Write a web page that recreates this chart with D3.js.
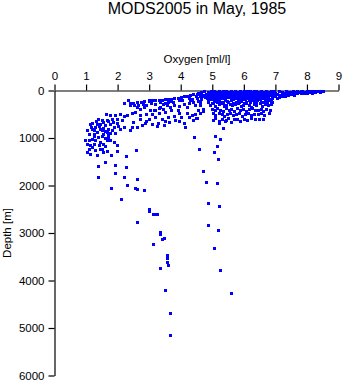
<!DOCTYPE html>
<html>
<head>
<meta charset="utf-8">
<script src="https://cdn.jsdelivr.net/npm/d3@7"></script>
<style>
  html, body { margin: 0; padding: 0; background: #fff; }
  svg { display: block; }
  text { font-family: "Liberation Sans", Arial, Helvetica, sans-serif; fill: #000; }
</style>
</head>
<body>
<svg id="chart" width="345" height="384"></svg>
<script>
// Oxygen (ml/l) versus depth (m) profiles, May 1985.
const titleText = "MODS2005 in May, 1985";
const xLabel = "Oxygen [ml/l]";
const yLabel = "Depth [m]";
const oxygenTicks = [0, 1, 2, 3, 4, 5, 6, 7, 8, 9];
const depthTicks = [0, 1000, 2000, 3000, 4000, 5000, 6000];

// Well-oxygenated surface layer, [oxygen, depth]
const surfacePoints = [
  [8.5,20],[8.45,15],[8.4,25],[8.35,5],[8.3,10],[8.25,30],[8.2,20],[8.15,45],[8.1,15],[8.05,35],
  [8.0,10],[8.0,55],[7.95,40],[7.9,25],[7.9,60],[7.85,15],[7.8,50],[7.75,30],[7.7,10],[7.65,60],
  [7.6,40],[7.6,85],[7.55,20],[7.5,70],[7.45,50],[7.4,30],[7.35,10],[7.3,80],[7.3,110],[7.25,55],
  [7.2,35],[7.15,100],[7.1,15],[7.1,140],[7.05,70],[7.0,120],[7.0,45],[6.95,20],[6.95,95],[6.9,160],
  [7.7,45],[7.4,90],[7.2,125],[7.05,165],[8.1,40],[7.5,30],[7.8,20]
];

// Dense upper-ocean cluster
const upperPoints = [
  [4.75,15],[4.65,30],[4.55,45],[4.7,90],[4.62,110],
  [4.95,20],[5.05,8],[5.12,25],[5.2,12],[5.28,30],[5.35,5],[5.42,18],[5.5,28],[5.58,10],[5.65,22],
  [5.72,6],[5.8,30],[5.88,15],[5.95,25],[6.02,8],[6.1,20],[6.18,12],[6.25,28],[6.32,5],[6.4,18],
  [6.48,26],[6.55,10],[6.62,22],[6.7,14],[6.78,30],[6.85,8],
  [4.85,40],[4.93,32],[5.01,46],[5.09,38],[5.17,42],[5.26,35],[5.33,48],[5.41,40],[5.49,44],[5.56,36],
  [5.63,47],[5.71,39],[5.79,43],[5.86,34],[5.94,46],[6.01,40],[6.09,44],[6.15,36],[6.22,47],[6.3,38],
  [6.37,43],[6.45,35],[6.52,46],[6.6,39],[6.67,44],[6.75,36],[6.82,47],[6.9,38],
  [4.8,70],[4.88,55],[4.97,85],[5.06,60],[5.15,75],[5.22,50],[5.3,90],[5.38,65],[5.47,80],[5.55,55],
  [5.62,88],[5.7,62],[5.78,78],[5.86,50],[5.93,92],[6.0,68],[6.08,84],[6.16,58],[6.23,76],[6.3,95],
  [6.38,60],[6.46,82],[6.53,52],[6.6,74],[6.68,90],[6.75,64],[6.83,80],[6.9,55],
  [4.82,102],[4.91,96],[5.0,105],[5.1,98],[5.19,103],[5.27,95],[5.36,104],[5.44,99],[5.53,102],[5.61,96],
  [5.7,105],[5.8,98],[5.88,103],[5.97,96],[6.05,104],[6.13,99],[6.21,102],[6.29,96],[6.38,105],[6.47,98],
  [6.56,103],[6.64,96],[6.73,104],[6.81,99],[6.92,102],
  [4.7,120],[4.78,140],[4.9,130],[5.0,115],[5.08,150],[5.17,125],[5.25,145],[5.33,110],[5.4,160],
  [5.5,130],[5.6,150],[5.68,118],[5.75,140],[5.85,128],[5.92,155],[6.02,112],[6.1,138],[6.2,160],
  [6.28,122],[6.35,148],[6.44,115],[6.52,135],[6.6,158],[6.7,125],[6.78,145],[6.88,118],
  [4.84,168],[4.95,162],[5.04,172],[5.13,165],[5.22,170],[5.31,163],[5.62,172],[5.71,165],[5.95,168],
  [6.04,174],[6.13,164],[6.3,170],[6.39,166],[6.48,172],[6.57,164],[6.66,170],[6.75,166],[6.84,172],
  [4.85,200],[4.95,185],[5.05,230],[5.12,195],[5.22,215],[5.3,240],[5.4,190],[5.48,225],[5.58,205],
  [5.66,180],[5.74,235],[5.82,200],[5.9,220],[6.0,188],[6.08,245],[6.17,210],[6.25,192],[6.33,230],
  [6.42,205],[6.5,185],[6.58,240],[6.67,215],[6.76,195],[6.85,225],
  [4.88,250],[4.98,256],[5.15,248],[5.35,254],[5.5,250],[5.66,256],[5.85,248],[6.0,254],[6.2,250],
  [6.38,256],[6.55,248],[6.72,254],[6.9,250],
  [4.92,300],[5.02,270],[5.1,320],[5.2,285],[5.28,260],[5.36,335],[5.45,295],[5.55,275],[5.62,315],
  [5.72,290],[5.8,265],[5.9,330],[5.98,300],[6.06,270],[6.15,310],[6.24,340],[6.32,280],[6.4,305],
  [6.5,265],[6.58,325],[6.66,290],[6.75,310],[6.86,275],
  [5.0,380],[5.08,420],[5.15,365],[5.25,400],[5.34,440],[5.42,375],[5.52,415],[5.6,390],[5.7,430],
  [5.78,370],[5.88,410],[5.97,385],[6.06,425],[6.15,395],[6.25,365],[6.35,420],[6.44,400],[6.54,380],
  [6.62,430],[6.83,406],[6.7,395],
  [5.02,480],[5.1,520],[5.2,470],[5.3,505],[5.38,540],[5.48,490],[5.57,465],[5.66,525],[5.75,495],
  [5.85,470],[5.94,530],[6.04,500],[6.13,475],[6.22,520],[6.32,490],[6.45,505],[6.55,470],[6.65,515],
  [6.8,480],
  [5.02,620],[5.1,580],[5.2,650],[5.3,600],[5.4,640],[5.5,570],[5.58,660],[5.68,610],[5.78,590],
  [5.88,645],[6.0,600],[6.1,615],[6.22,570],[6.34,610],[6.48,590],[6.62,600],[5.22,690],[5.45,620]
];

// Oxygen-minimum transition band
const bandPoints = [
  [4.6,60],[4.5,75],[4.4,80],[4.3,100],[4.2,110],[4.1,125],[4.0,140],[3.9,150],[3.8,165],[3.7,170],
  [3.6,180],[3.5,175],[3.4,190],[3.3,200],[3.2,210],[3.1,190],[3.0,220],[2.98,196],[2.85,230],
  [2.75,250],[2.6,240],[2.5,260],[2.4,270],[2.34,210],[2.19,266],[2.4,315],[2.53,315],[2.66,315],
  [2.71,385],[3.03,420],[3.19,420],[3.35,350],[3.56,315],[3.6,245],[3.45,280],
  [2.85,350],[3.15,400],[3.3,360],[3.45,380],[3.65,350],[3.8,300],[3.95,330],[4.1,280],[4.25,260],
  [4.4,240],[4.55,220],[4.65,180],[4.45,300],[4.2,350],[3.9,400],[3.7,420],[3.5,450],[3.3,470],
  [3.1,490],[2.9,500],[2.7,520],[2.55,450],[2.45,480],[2.6,350],[2.9,300],[3.2,280],[3.5,260],
  [3.75,240],[4.05,210],[4.35,170],[4.6,300],[4.7,380],[4.55,420],
  [4.48,120],[4.25,150],[3.95,190],[3.65,215],[3.35,235],[3.05,260],[2.8,280],[4.5,160],[4.6,250],
  [4.3,200],
  [2.38,840],[2.45,770],[2.61,770],[2.77,735],[2.87,686],[3.08,700],[3.24,756],[3.29,686],[3.47,735],
  [3.64,665],[3.82,630],[3.93,651],[4.11,686],[4.14,770],[4.25,560],[4.35,525],[4.46,490],[4.51,574],
  [4.61,476],[4.72,434],[4.4,616],
  [3.0,600],[3.2,560],[3.4,600],[3.6,560],[3.8,540],[4.0,560],[2.9,640],[2.7,600],[2.5,660],[3.5,640],
  [4.2,470],[3.95,470]
];

// Low-oxygen intermediate layer
const minimumPoints = [
  [1.63,504],[1.76,525],[1.92,525],[2.08,504],[2.19,546],[1.97,595],[1.82,595],[1.66,616],[1.5,616],
  [1.39,595],[2.29,525],[2.13,630],[1.3,650],[1.2,680],
  [1.11,714],[1.02,826],[1.18,805],[1.29,770],[1.45,700],[1.61,735],[1.76,700],[1.87,770],[1.97,686],
  [2.08,805],[1.34,875],[1.5,840],[1.66,875],[1.82,840],[1.24,910],[1.08,910],[1.55,924],[1.71,945],
  [1.92,896],[2.38,826],[2.2,760],[1.4,740],[1.55,780],[1.7,810],[1.25,840],[1.15,760],
  [1.35,700],[1.55,660],[1.7,640],[1.85,660],[2.0,740],[1.45,800],[1.6,860],[1.75,900],
  [0.97,1050],[1.08,1036],[1.18,1015],[1.29,1050],[1.02,1120],[1.13,1155],[1.45,1085],[1.55,1120],
  [1.66,1050],[1.76,1036],[1.61,1176],[1.5,1225],[1.08,1225],[1.13,1344],[1.02,1295],[1.29,1260],
  [1.55,1295],[1.66,1274],[1.8,1365],[1.97,1155],[1.97,1274],[1.39,980],[1.24,966],[1.5,966],
  [1.71,994],[1.87,1085],[1.36,1365],[1.4,1150],[1.25,1120],[1.6,1000],[1.2,1190],[1.45,1230]
];

// Deep profiles below 1300 m
const deepPoints = [
  [1.39,1586],[1.39,1817],[1.59,1495],[1.78,2049],[1.91,1565],[1.91,1733],[2.11,2280],[2.2,1817],
  [2.25,1375],[2.28,1614],[2.31,1986],[2.54,2049],[2.58,1263],[2.6,1859],[2.62,2070],[2.61,2764],
  [2.83,2105],[2.99,2491],[3.0,2533],[3.12,2604],[3.2,2604],[3.26,2604],[3.33,2983],[3.33,3025],
  [3.47,3109],[3.42,3122],[3.12,3242],[3.55,3473],[3.55,3516],[3.58,3614],[3.59,3670],[3.33,3733],
  [3.49,4210],[3.65,4680],[3.65,5143],
  [4.41,982],[5.09,968],[5.24,1018],[5.35,793],[4.57,1228],[5.15,1165],[4.14,765],[4.48,583],
  [5.04,1291],[5.17,1446],[4.72,1698],[4.79,1923],[5.14,1937],[4.85,2372],[5.2,2428],[4.88,2828],
  [5.17,2933],[5.04,3312],[5.23,3775],[5.6,4259]
];

const allPoints = surfacePoints.concat(upperPoints, bandPoints, minimumPoints, deepPoints);

const svg = d3.select("#chart");

const x = d3.scaleLinear().domain([0, 9]).range([54.5, 338.5]);
const y = d3.scaleLinear().domain([0, 6000]).range([90.5, 375.5]);

// Title
svg.append("text")
  .attr("x", 197).attr("y", 14)
  .attr("text-anchor", "middle")
  .style("font-size", "16px")
  .text(titleText);

// Top oxygen axis
const xAxis = svg.append("g")
  .attr("transform", `translate(0,${y(0)})`)
  .call(d3.axisTop(x).tickValues(oxygenTicks).tickFormat(d3.format("d"))
    .tickSize(6).tickSizeOuter(0).tickPadding(5));

// Left depth axis
const yAxis = svg.append("g")
  .attr("transform", `translate(${x(0)},0)`)
  .call(d3.axisLeft(y).tickValues(depthTicks).tickFormat(d3.format("d"))
    .tickSize(6).tickSizeOuter(0).tickPadding(4));

[xAxis, yAxis].forEach(g => {
  g.attr("font-family", null).attr("font-size", null);
  g.selectAll("text").style("font-size", "11.5px").attr("fill", "#000");
  g.selectAll("path, line").attr("stroke", "#000").attr("stroke-width", 1.2);
});

// Axis titles
svg.append("text")
  .attr("x", 197).attr("y", 63)
  .attr("text-anchor", "middle")
  .style("font-size", "11.5px")
  .text(xLabel);

svg.append("text")
  .attr("transform", `translate(11,${(y(0) + y(6000)) / 2}) rotate(-90)`)
  .attr("text-anchor", "middle")
  .style("font-size", "11.5px")
  .text(yLabel);

// Observations: 3x3 squares snapped to whole pixels
svg.append("g")
  .attr("shape-rendering", "crispEdges")
  .selectAll("rect")
  .data(allPoints)
  .join("rect")
  .attr("x", d => Math.round(x(d[0])) - 1)
  .attr("y", d => Math.round(y(d[1])) - 1)
  .attr("width", 3)
  .attr("height", 3)
  .attr("fill", "#0000ff");
</script>
</body>
</html>
